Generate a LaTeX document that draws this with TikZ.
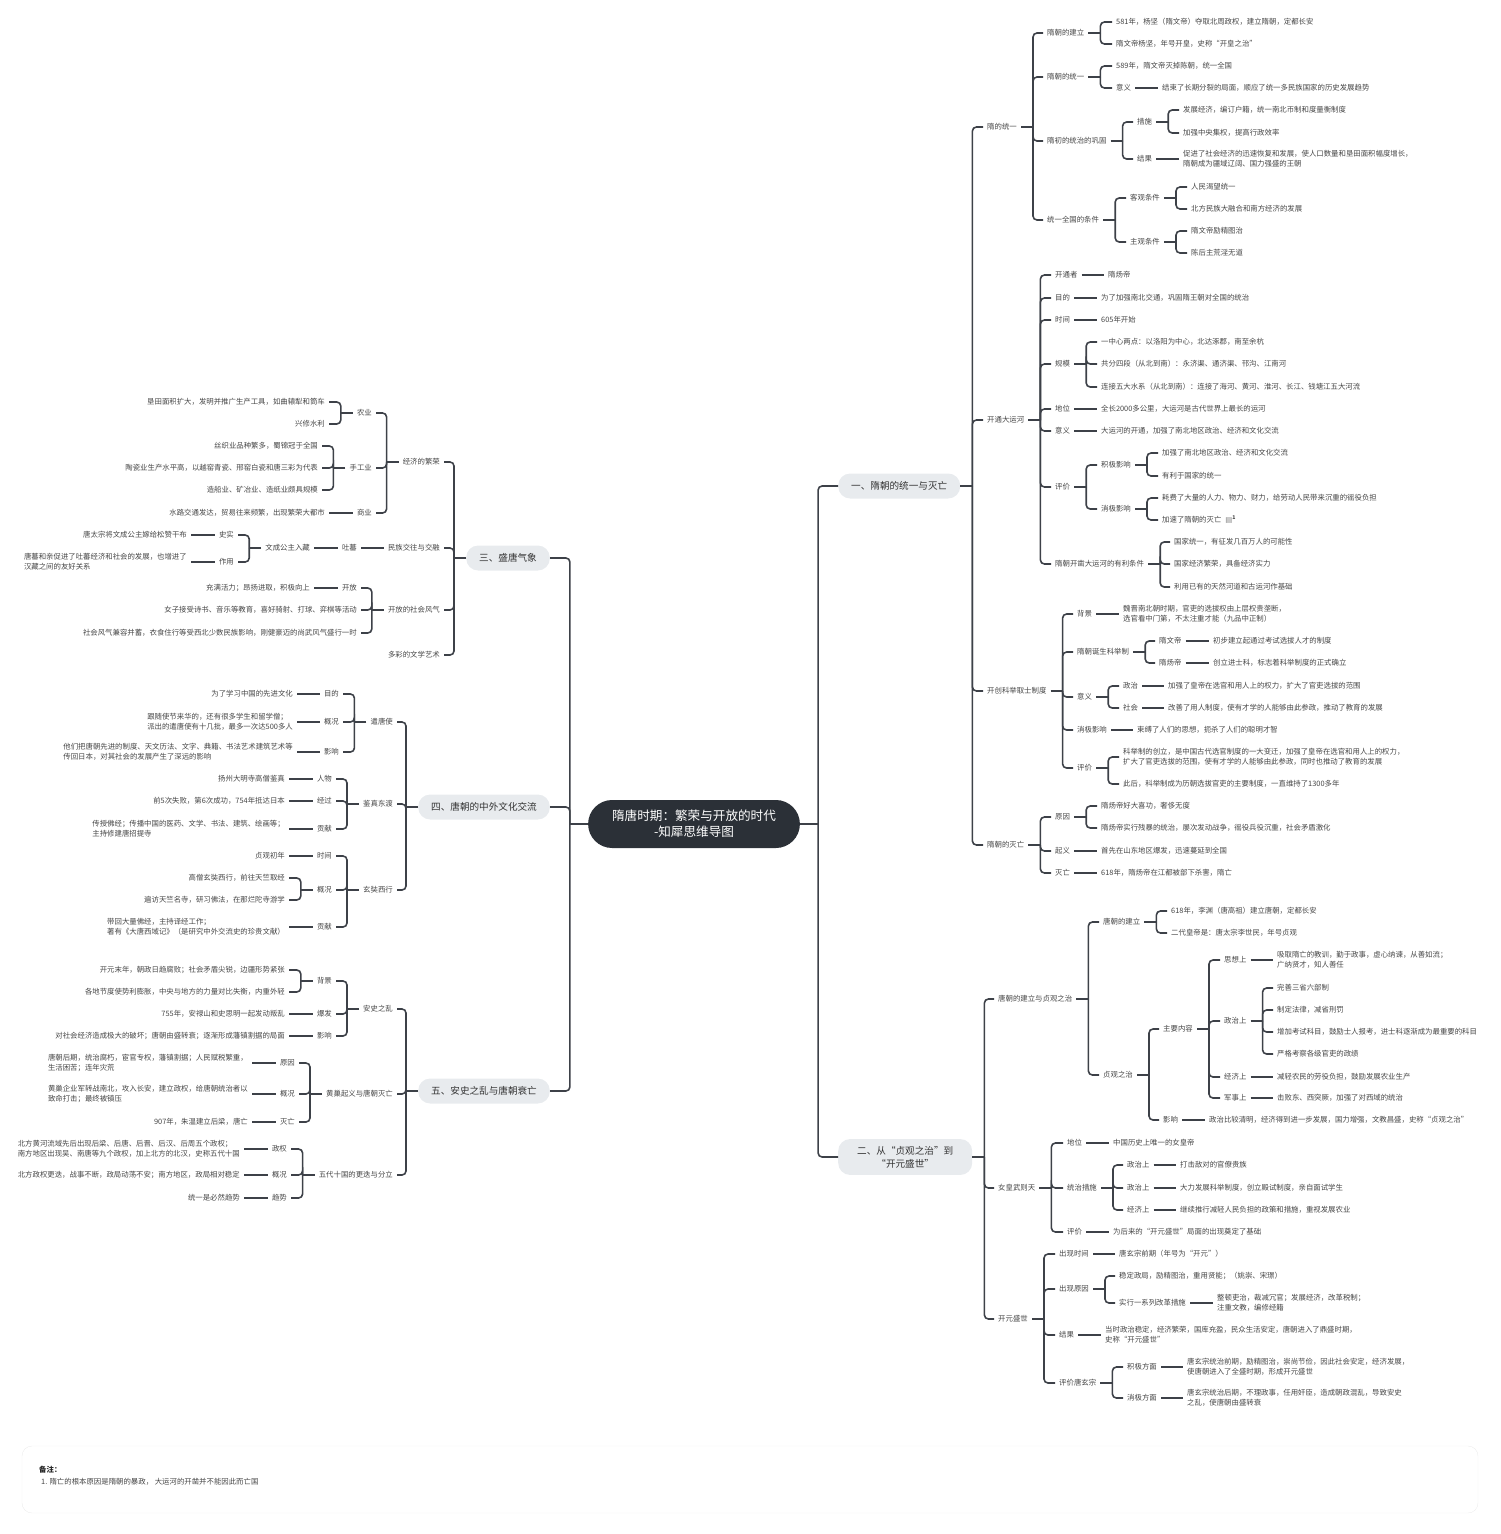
\documentclass[tikz,border=0pt]{standalone}
\usepackage{fontspec}
\setmainfont{Noto Sans CJK SC}
\newfontfamily\glyphfont{DejaVu Sans}
\usepackage{tikz}
\usepackage{color}
\definecolor{linegray}{HTML}{3D4148}
\definecolor{txtgray}{HTML}{454545}
\definecolor{pillgray}{HTML}{E8EBEE}
\definecolor{rootdark}{HTML}{2B3037}
\definecolor{noteline}{HTML}{ECECEC}

\begin{document}
\begin{tikzpicture}
  [x=1pt, y=-1pt,
   mapline/.style={draw=linegray, line width=1.6pt, rounded corners=4pt},
   leaf/.style={font=\fontsize{7.4}{10}\selectfont, text=txtgray, inner xsep=4pt, inner ysep=1pt, align=left},
   rt/.style={leaf, anchor=west},
   lt/.style={leaf, anchor=east},
   topic/.style={fill=pillgray, rounded corners=12pt, minimum height=25pt, inner xsep=13pt, font=\fontsize{9.6}{13}\selectfont, text=black!80, align=center},
   centre/.style={fill=rootdark, rounded corners=24pt, minimum height=48pt, inner xsep=24pt, font=\fontsize{12.6}{16}\selectfont, text=white, align=center}]
  \useasboundingbox (0,0) rectangle (1500,1534);

  \node (root) at (694,824) [centre] {隋唐时期：繁荣与开放的时代\\-知犀思维导图};
  \node (sui) at (838,486) [topic, anchor=west] {一、隋朝的统一与灭亡};
  \node (tang) at (838,1157) [topic, anchor=west, inner ysep=7pt, inner xsep=19pt] {二、从“贞观之治”到\\“开元盛世”};
  \node (sheng) at (550,558) [topic, anchor=east] {三、盛唐气象};
  \node (jiao) at (550,807) [topic, anchor=east] {四、唐朝的中外文化交流};
  \node (shuai) at (550,1091) [topic, anchor=east] {五、安史之乱与唐朝衰亡};

  \node (sui1) at (983,127) [rt] {隋的统一};
  \node (sui2) at (983,420) [rt] {开通大运河};
  \node (sui3) at (983,691) [rt] {开创科举取士制度};
  \node (sui4) at (983,845) [rt] {隋朝的灭亡};

  \node (sui1a) at (1043,33) [rt] {隋朝的建立};
  \node (sui1b) at (1043,77) [rt] {隋朝的统一};
  \node (sui1c) at (1043,141) [rt] {隋初的统治的巩固};
  \node (sui1d) at (1043,220) [rt] {统一全国的条件};
  \foreach \n/\y/\txt in {1/22/{581年，杨坚（隋文帝）夺取北周政权，建立隋朝，定都长安}, 2/44/{隋文帝杨坚，年号开皇，史称“开皇之治”}}
    \node (sui1a\n) at (1112,\y) [rt] {\txt};
  \node (sui1b1) at (1112,66) [rt] {589年，隋文帝灭掉陈朝，统一全国};
  \node (sui1b2) at (1112,88) [rt] {意义};
  \node (sui1b21) at (1158,88) [rt] {结束了长期分裂的局面，顺应了统一多民族国家的历史发展趋势};
  \node (sui1c1) at (1133,122) [rt] {措施};
  \node (sui1c2) at (1133,159) [rt] {结果};
  \node (sui1c11) at (1179,110) [rt] {发展经济，编订户籍，统一南北币制和度量衡制度};
  \node (sui1c12) at (1179,133) [rt] {加强中央集权，提高行政效率};
  \node (sui1c21) at (1179,159) [rt] {促进了社会经济的迅速恢复和发展，使人口数量和垦田面积幅度增长，\\隋朝成为疆域辽阔、国力强盛的王朝};
  \node (sui1d1) at (1126,198) [rt] {客观条件};
  \node (sui1d2) at (1126,242) [rt] {主观条件};
  \foreach \n/\y/\txt in {1/187/{人民渴望统一}, 2/209/{北方民族大融合和南方经济的发展}}
    \node (sui1d1\n) at (1187,\y) [rt] {\txt};
  \foreach \n/\y/\txt in {1/231/{隋文帝励精图治}, 2/253/{陈后主荒淫无道}}
    \node (sui1d2\n) at (1187,\y) [rt] {\txt};

  \node (sui2a) at (1051,275) [rt] {开通者};
  \node (sui2b) at (1051,298) [rt] {目的};
  \node (sui2c) at (1051,320) [rt] {时间};
  \node (sui2d) at (1051,364) [rt] {规模};
  \node (sui2e) at (1051,409) [rt] {地位};
  \node (sui2f) at (1051,431) [rt] {意义};
  \node (sui2g) at (1051,487) [rt] {评价};
  \node (sui2h) at (1051,564) [rt] {隋朝开凿大运河的有利条件};
  \node (sui2a1) at (1104,275) [rt] {隋炀帝};
  \node (sui2b1) at (1097,298) [rt] {为了加强南北交通，巩固隋王朝对全国的统治};
  \node (sui2c1) at (1097,320) [rt] {605年开始};
  \foreach \n/\y/\txt in {1/342/{一中心两点：以洛阳为中心，北达涿郡，南至余杭}, 2/364/{共分四段（从北到南）：永济渠、通济渠、邗沟、江南河}, 3/387/{连接五大水系（从北到南）：连接了海河、黄河、淮河、长江、钱塘江五大河流}}
    \node (sui2d\n) at (1097,\y) [rt] {\txt};
  \node (sui2e1) at (1097,409) [rt] {全长2000多公里，大运河是古代世界上最长的运河};
  \node (sui2f1) at (1097,431) [rt] {大运河的开通，加强了南北地区政治、经济和文化交流};
  \node (sui2g1) at (1097,465) [rt] {积极影响};
  \node (sui2g2) at (1097,509) [rt] {消极影响};
  \node (sui2g11) at (1158,453) [rt] {加强了南北地区政治、经济和文化交流};
  \node (sui2g12) at (1158,476) [rt] {有利于国家的统一};
  \node (sui2g21) at (1158,498) [rt] {耗费了大量的人力、物力、财力，给劳动人民带来沉重的徭役负担};
  \node (sui2g22) at (1158,520) [rt] {加速了隋朝的灭亡\hspace{4pt}{\glyphfont\color{gray}▤}\textsuperscript{\bfseries 1}};
  \foreach \n/\y/\txt in {1/542/{国家统一，有征发几百万人的可能性}, 2/564/{国家经济繁荣，具备经济实力}, 3/587/{利用已有的天然河道和古运河作基础}}
    \node (sui2h\n) at (1170,\y) [rt] {\txt};

  \node (sui3a) at (1073,614) [rt] {背景};
  \node (sui3b) at (1073,652) [rt] {隋朝诞生科举制};
  \node (sui3c) at (1073,697) [rt] {意义};
  \node (sui3d) at (1073,730) [rt] {消极影响};
  \node (sui3e) at (1073,768) [rt] {评价};
  \node (sui3a1) at (1119,614) [rt] {魏晋南北朝时期，官吏的选拔权由上层权贵垄断，\\选官看中门第，不太注重才能（九品中正制）};
  \node (sui3b1) at (1155,641) [rt] {隋文帝};
  \node (sui3b2) at (1155,663) [rt] {隋炀帝};
  \node (sui3b11) at (1209,641) [rt] {初步建立起通过考试选拔人才的制度};
  \node (sui3b21) at (1209,663) [rt] {创立进士科，标志着科举制度的正式确立};
  \node (sui3c1) at (1119,686) [rt] {政治};
  \node (sui3c2) at (1119,708) [rt] {社会};
  \node (sui3c11) at (1164,686) [rt] {加强了皇帝在选官和用人上的权力，扩大了官吏选拔的范围};
  \node (sui3c21) at (1164,708) [rt] {改善了用人制度，使有才学的人能够由此参政，推动了教育的发展};
  \node (sui3d1) at (1133,730) [rt] {束缚了人们的思想，扼杀了人们的聪明才智};
  \node (sui3e1) at (1119,757) [rt] {科举制的创立，是中国古代选官制度的一大变迁，加强了皇帝在选官和用人上的权力，\\扩大了官吏选拔的范围，使有才学的人能够由此参政，同时也推动了教育的发展};
  \node (sui3e2) at (1119,784) [rt] {此后，科举制成为历朝选拔官吏的主要制度，一直维持了1300多年};

  \node (sui4a) at (1051,817) [rt] {原因};
  \node (sui4b) at (1051,851) [rt] {起义};
  \node (sui4c) at (1051,873) [rt] {灭亡};
  \node (sui4a1) at (1097,806) [rt] {隋炀帝好大喜功，奢侈无度};
  \node (sui4a2) at (1097,828) [rt] {隋炀帝实行残暴的统治，屡次发动战争，徭役兵役沉重，社会矛盾激化};
  \node (sui4b1) at (1097,851) [rt] {首先在山东地区爆发，迅速蔓延到全国};
  \node (sui4c1) at (1097,873) [rt] {618年，隋炀帝在江都被部下杀害，隋亡};

  \node (tang1) at (994,999) [rt] {唐朝的建立与贞观之治};
  \node (tang2) at (994,1188) [rt] {女皇武则天};
  \node (tang3) at (994,1319) [rt] {开元盛世};
  \node (tang1a) at (1099,922) [rt] {唐朝的建立};
  \node (tang1b) at (1099,1075) [rt] {贞观之治};
  \node (tang1a1) at (1167,911) [rt] {618年，李渊（唐高祖）建立唐朝，定都长安};
  \node (tang1a2) at (1167,933) [rt] {二代皇帝是：唐太宗李世民，年号贞观};
  \node (tang1b1) at (1159,1029) [rt] {主要内容};
  \node (tang1b2) at (1159,1120) [rt] {影响};
  \node (tang1b1a) at (1220,960) [rt] {思想上};
  \node (tang1b1b) at (1220,1021) [rt] {政治上};
  \node (tang1b1c) at (1220,1077) [rt] {经济上};
  \node (tang1b1d) at (1220,1098) [rt] {军事上};
  \node (tang1b1a1) at (1273,960) [rt] {吸取隋亡的教训，勤于政事，虚心纳谏，从善如流；\\广纳贤才，知人善任};
  \foreach \n/\y/\txt in {1/988/{完善三省六部制}, 2/1010/{制定法律，减省刑罚}, 3/1032/{增加考试科目，鼓励士人报考，进士科逐渐成为最重要的科目}, 4/1054/{严格考察各级官吏的政绩}}
    \node (tang1b1b\n) at (1273,\y) [rt] {\txt};
  \node (tang1b1c1) at (1273,1077) [rt] {减轻农民的劳役负担，鼓励发展农业生产};
  \node (tang1b1d1) at (1273,1098) [rt] {击败东、西突厥，加强了对西域的统治};
  \node (tang1b21) at (1205,1120) [rt] {政治比较清明，经济得到进一步发展，国力增强，文教昌盛，史称“贞观之治”};

  \node (tang2a) at (1063,1143) [rt] {地位};
  \node (tang2b) at (1063,1188) [rt] {统治措施};
  \node (tang2c) at (1063,1232) [rt] {评价};
  \node (tang2a1) at (1109,1143) [rt] {中国历史上唯一的女皇帝};
  \node (tang2b1) at (1123,1165) [rt] {政治上};
  \node (tang2b2) at (1123,1188) [rt] {政治上};
  \node (tang2b3) at (1123,1210) [rt] {经济上};
  \node (tang2b11) at (1176,1165) [rt] {打击敌对的官僚贵族};
  \node (tang2b21) at (1176,1188) [rt] {大力发展科举制度，创立殿试制度，亲自面试学生};
  \node (tang2b31) at (1176,1210) [rt] {继续推行减轻人民负担的政策和措施，重视发展农业};
  \node (tang2c1) at (1109,1232) [rt] {为后来的“开元盛世”局面的出现奠定了基础};

  \node (tang3a) at (1055,1254) [rt] {出现时间};
  \node (tang3b) at (1055,1289) [rt] {出现原因};
  \node (tang3c) at (1055,1335) [rt] {结果};
  \node (tang3d) at (1055,1383) [rt] {评价唐玄宗};
  \node (tang3a1) at (1115,1254) [rt] {唐玄宗前期（年号为“开元”）};
  \node (tang3b1) at (1115,1276) [rt] {稳定政局，励精图治，重用贤能；（姚崇、宋璟）};
  \node (tang3b2) at (1115,1303) [rt] {实行一系列改革措施};
  \node (tang3b21) at (1213,1303) [rt] {整顿吏治，裁减冗官；发展经济，改革税制；\\注重文教，编修经籍};
  \node (tang3c1) at (1101,1335) [rt] {当时政治稳定，经济繁荣，国库充盈，民众生活安定，唐朝进入了鼎盛时期，\\史称“开元盛世”};
  \node (tang3d1) at (1123,1367) [rt] {积极方面};
  \node (tang3d2) at (1123,1398) [rt] {消极方面};
  \node (tang3d11) at (1183,1367) [rt] {唐玄宗统治前期，励精图治，崇尚节俭，因此社会安定，经济发展，\\使唐朝进入了全盛时期，形成开元盛世};
  \node (tang3d21) at (1183,1398) [rt] {唐玄宗统治后期，不理政事，任用奸臣，造成朝政混乱，导致安史\\之乱，使唐朝由盛转衰};

  \node (sheng1) at (444,462) [lt] {经济的繁荣};
  \node (sheng2) at (444,548) [lt] {民族交往与交融};
  \node (sheng3) at (444,610) [lt] {开放的社会风气};
  \node (sheng4) at (444,655) [lt] {多彩的文学艺术};
  \node (sheng1a) at (376,413) [lt] {农业};
  \node (sheng1b) at (376,468) [lt] {手工业};
  \node (sheng1c) at (376,513) [lt] {商业};
  \node (sheng1a1) at (329,402) [lt] {垦田面积扩大，发明并推广生产工具，如曲辕犁和筒车};
  \node (sheng1a2) at (329,424) [lt] {兴修水利};
  \foreach \n/\y/\txt in {1/446/{丝织业品种繁多，蜀锦冠于全国}, 2/468/{陶瓷业生产水平高，以越窑青瓷、邢窑白瓷和唐三彩为代表}, 3/490/{造船业、矿冶业、造纸业颇具规模}}
    \node (sheng1b\n) at (322,\y) [lt] {\txt};
  \node (sheng1c1) at (329,513) [lt] {水路交通发达，贸易往来频繁，出现繁荣大都市};
  \node (sheng2a) at (361,548) [lt] {吐蕃};
  \node (sheng2a1) at (314,548) [lt] {文成公主入藏};
  \node (sheng2a1a) at (238,535) [lt] {史实};
  \node (sheng2a1b) at (238,562) [lt] {作用};
  \node (sheng2a1a1) at (191,535) [lt] {唐太宗将文成公主嫁给松赞干布};
  \node (sheng2a1b1) at (191,562) [lt] {唐蕃和亲促进了吐蕃经济和社会的发展，也增进了\\汉藏之间的友好关系};
  \node (sheng3a) at (361,588) [lt] {开放};
  \node (sheng3b) at (361,610) [lt] {女子接受诗书、音乐等教育，喜好骑射、打球、弈棋等活动};
  \node (sheng3c) at (361,633) [lt] {社会风气兼容并蓄，衣食住行等受西北少数民族影响，刚健豪迈的尚武风气盛行一时};
  \node (sheng3a1) at (314,588) [lt] {充满活力；昂扬进取，积极向上};

  \node (jiao1) at (397,722) [lt] {遣唐使};
  \node (jiao2) at (397,804) [lt] {鉴真东渡};
  \node (jiao3) at (397,890) [lt] {玄奘西行};
  \node (jiao1a) at (343,694) [lt] {目的};
  \node (jiao1b) at (343,722) [lt] {概况};
  \node (jiao1c) at (343,752) [lt] {影响};
  \node (jiao1a1) at (297,694) [lt] {为了学习中国的先进文化};
  \node (jiao1b1) at (297,722) [lt] {跟随使节来华的，还有很多学生和留学僧；\\派出的遣唐使有十几批，最多一次达500多人};
  \node (jiao1c1) at (297,752) [lt] {他们把唐朝先进的制度、天文历法、文字、典籍、书法艺术建筑艺术等\\传回日本，对其社会的发展产生了深远的影响};
  \node (jiao2a) at (336,779) [lt] {人物};
  \node (jiao2b) at (336,801) [lt] {经过};
  \node (jiao2c) at (336,829) [lt] {贡献};
  \node (jiao2a1) at (289,779) [lt] {扬州大明寺高僧鉴真};
  \node (jiao2b1) at (289,801) [lt] {前5次失败，第6次成功，754年抵达日本};
  \node (jiao2c1) at (289,829) [lt] {传授佛经；传播中国的医药、文学、书法、建筑、绘画等；\\主持修建唐招提寺};
  \node (jiao3a) at (336,856) [lt] {时间};
  \node (jiao3b) at (336,890) [lt] {概况};
  \node (jiao3c) at (336,927) [lt] {贡献};
  \node (jiao3a1) at (289,856) [lt] {贞观初年};
  \node (jiao3b1) at (289,878) [lt] {高僧玄奘西行，前往天竺取经};
  \node (jiao3b2) at (289,900) [lt] {遍访天竺名寺，研习佛法，在那烂陀寺游学};
  \node (jiao3c1) at (289,927) [lt] {带回大量佛经，主持译经工作；\\著有《大唐西域记》（是研究中外交流史的珍贵文献）};

  \node (shuai1) at (397,1009) [lt] {安史之乱};
  \node (shuai2) at (397,1094) [lt] {黄巢起义与唐朝灭亡};
  \node (shuai3) at (397,1175) [lt] {五代十国的更迭与分立};
  \node (shuai1a) at (336,981) [lt] {背景};
  \node (shuai1b) at (336,1014) [lt] {爆发};
  \node (shuai1c) at (336,1036) [lt] {影响};
  \node (shuai1a1) at (289,970) [lt] {开元末年，朝政日趋腐败；社会矛盾尖锐，边疆形势紧张};
  \node (shuai1a2) at (289,992) [lt] {各地节度使势利膨胀，中央与地方的力量对比失衡，内重外轻};
  \node (shuai1b1) at (289,1014) [lt] {755年，安禄山和史思明一起发动叛乱};
  \node (shuai1c1) at (289,1036) [lt] {对社会经济造成极大的破坏；唐朝由盛转衰；逐渐形成藩镇割据的局面};
  \node (shuai2a) at (299,1063) [lt] {原因};
  \node (shuai2b) at (299,1094) [lt] {概况};
  \node (shuai2c) at (299,1122) [lt] {灭亡};
  \node (shuai2a1) at (252,1063) [lt] {唐朝后期，统治腐朽，宦官专权，藩镇割据；人民赋税繁重，\\生活困苦；连年灾荒};
  \node (shuai2b1) at (252,1094) [lt] {黄巢企业军转战南北，攻入长安，建立政权，给唐朝统治者以\\致命打击；最终被镇压};
  \node (shuai2c1) at (252,1122) [lt] {907年，朱温建立后梁，唐亡};
  \node (shuai3a) at (291,1149) [lt] {政权};
  \node (shuai3b) at (291,1175) [lt] {概况};
  \node (shuai3c) at (291,1198) [lt] {趋势};
  \node (shuai3a1) at (244,1149) [lt] {北方黄河流域先后出现后梁、后唐、后晋、后汉、后周五个政权；\\南方地区出现吴、南唐等九个政权，加上北方的北汉，史称五代十国};
  \node (shuai3b1) at (244,1175) [lt] {北方政权更迭，战事不断，政局动荡不安；南方地区，政局相对稳定};
  \node (shuai3c1) at (244,1198) [lt] {统一是必然趋势};

  \draw [mapline] (root.east) -- ++(18pt,0);
  \draw [mapline] (root.west) -- ++(-18pt,0);
  \foreach \c in {sui,tang}
    \draw [mapline] ([xshift=18pt]root.east) |- (\c.west);
  \foreach \c in {sheng,jiao,shuai}
    \draw [mapline] ([xshift=-18pt]root.west) |- (\c.east);

  \foreach \p/\cs in {sui/{sui1,sui2,sui3,sui4}, sui1/{sui1a,sui1b,sui1c,sui1d}, sui1a/{sui1a1,sui1a2}, sui1b/{sui1b1,sui1b2}, sui1c/{sui1c1,sui1c2}, sui1c1/{sui1c11,sui1c12}, sui1d/{sui1d1,sui1d2}, sui1d1/{sui1d11,sui1d12}, sui1d2/{sui1d21,sui1d22},
      sui2/{sui2a,sui2b,sui2c,sui2d,sui2e,sui2f,sui2g,sui2h}, sui2d/{sui2d1,sui2d2,sui2d3}, sui2g/{sui2g1,sui2g2}, sui2g1/{sui2g11,sui2g12}, sui2g2/{sui2g21,sui2g22}, sui2h/{sui2h1,sui2h2,sui2h3},
      sui3/{sui3a,sui3b,sui3c,sui3d,sui3e}, sui3b/{sui3b1,sui3b2}, sui3c/{sui3c1,sui3c2}, sui3e/{sui3e1,sui3e2},
      sui4/{sui4a,sui4b,sui4c}, sui4a/{sui4a1,sui4a2},
      tang/{tang1,tang2,tang3}, tang1/{tang1a,tang1b}, tang1a/{tang1a1,tang1a2}, tang1b/{tang1b1,tang1b2}, tang1b1/{tang1b1a,tang1b1b,tang1b1c,tang1b1d}, tang1b1b/{tang1b1b1,tang1b1b2,tang1b1b3,tang1b1b4},
      tang2/{tang2a,tang2b,tang2c}, tang2b/{tang2b1,tang2b2,tang2b3},
      tang3/{tang3a,tang3b,tang3c,tang3d}, tang3b/{tang3b1,tang3b2}, tang3d/{tang3d1,tang3d2}} {
    \draw [mapline] (\p.east) -- ++(12pt,0);
    \foreach \c in \cs
      \draw [mapline] ([xshift=12pt]\p.east) |- (\c.west);
  }
  \foreach \p/\c in {sui1b2/sui1b21, sui1c2/sui1c21, sui2a/sui2a1, sui2b/sui2b1, sui2c/sui2c1, sui2e/sui2e1, sui2f/sui2f1, sui3a/sui3a1, sui3b1/sui3b11, sui3b2/sui3b21, sui3c1/sui3c11, sui3c2/sui3c21, sui3d/sui3d1, sui4b/sui4b1, sui4c/sui4c1,
      tang1b1a/tang1b1a1, tang1b1c/tang1b1c1, tang1b1d/tang1b1d1, tang1b2/tang1b21, tang2a/tang2a1, tang2b1/tang2b11, tang2b2/tang2b21, tang2b3/tang2b31, tang2c/tang2c1, tang3a/tang3a1, tang3b2/tang3b21, tang3c/tang3c1, tang3d1/tang3d11, tang3d2/tang3d21}
    \draw [mapline] (\p.east) -- (\p.east -| \c.west);

  \foreach \p/\cs in {sheng/{sheng1,sheng2,sheng3,sheng4}, sheng1/{sheng1a,sheng1b,sheng1c}, sheng1a/{sheng1a1,sheng1a2}, sheng1b/{sheng1b1,sheng1b2,sheng1b3}, sheng2a1/{sheng2a1a,sheng2a1b}, sheng3/{sheng3a,sheng3b,sheng3c},
      jiao/{jiao1,jiao2,jiao3}, jiao1/{jiao1a,jiao1b,jiao1c}, jiao2/{jiao2a,jiao2b,jiao2c}, jiao3/{jiao3a,jiao3b,jiao3c}, jiao3b/{jiao3b1,jiao3b2},
      shuai/{shuai1,shuai2,shuai3}, shuai1/{shuai1a,shuai1b,shuai1c}, shuai1a/{shuai1a1,shuai1a2}, shuai2/{shuai2a,shuai2b,shuai2c}, shuai3/{shuai3a,shuai3b,shuai3c}} {
    \draw [mapline] (\p.west) -- ++(-12pt,0);
    \foreach \c in \cs
      \draw [mapline] ([xshift=-12pt]\p.west) |- (\c.east);
  }
  \foreach \p/\c in {sheng1c/sheng1c1, sheng2/sheng2a, sheng2a/sheng2a1, sheng2a1a/sheng2a1a1, sheng2a1b/sheng2a1b1, sheng3a/sheng3a1,
      jiao1a/jiao1a1, jiao1b/jiao1b1, jiao1c/jiao1c1, jiao2a/jiao2a1, jiao2b/jiao2b1, jiao2c/jiao2c1, jiao3a/jiao3a1, jiao3c/jiao3c1,
      shuai1b/shuai1b1, shuai1c/shuai1c1, shuai2a/shuai2a1, shuai2b/shuai2b1, shuai2c/shuai2c1, shuai3a/shuai3a1, shuai3b/shuai3b1, shuai3c/shuai3c1}
    \draw [mapline] (\p.west) -- (\p.west -| \c.east);

  \draw [noteline, rounded corners=10pt] (22,1446) rectangle (1478,1513);
  \node (notehead) at (35,1470) [rt, font=\fontsize{7.4}{10}\selectfont\bfseries, text=black!85] {备注：};
  \node (notetext) at (37,1482) [rt] {1. 隋亡的根本原因是隋朝的暴政， 大运河的开凿并不能因此而亡国};
\end{tikzpicture}
\end{document}
